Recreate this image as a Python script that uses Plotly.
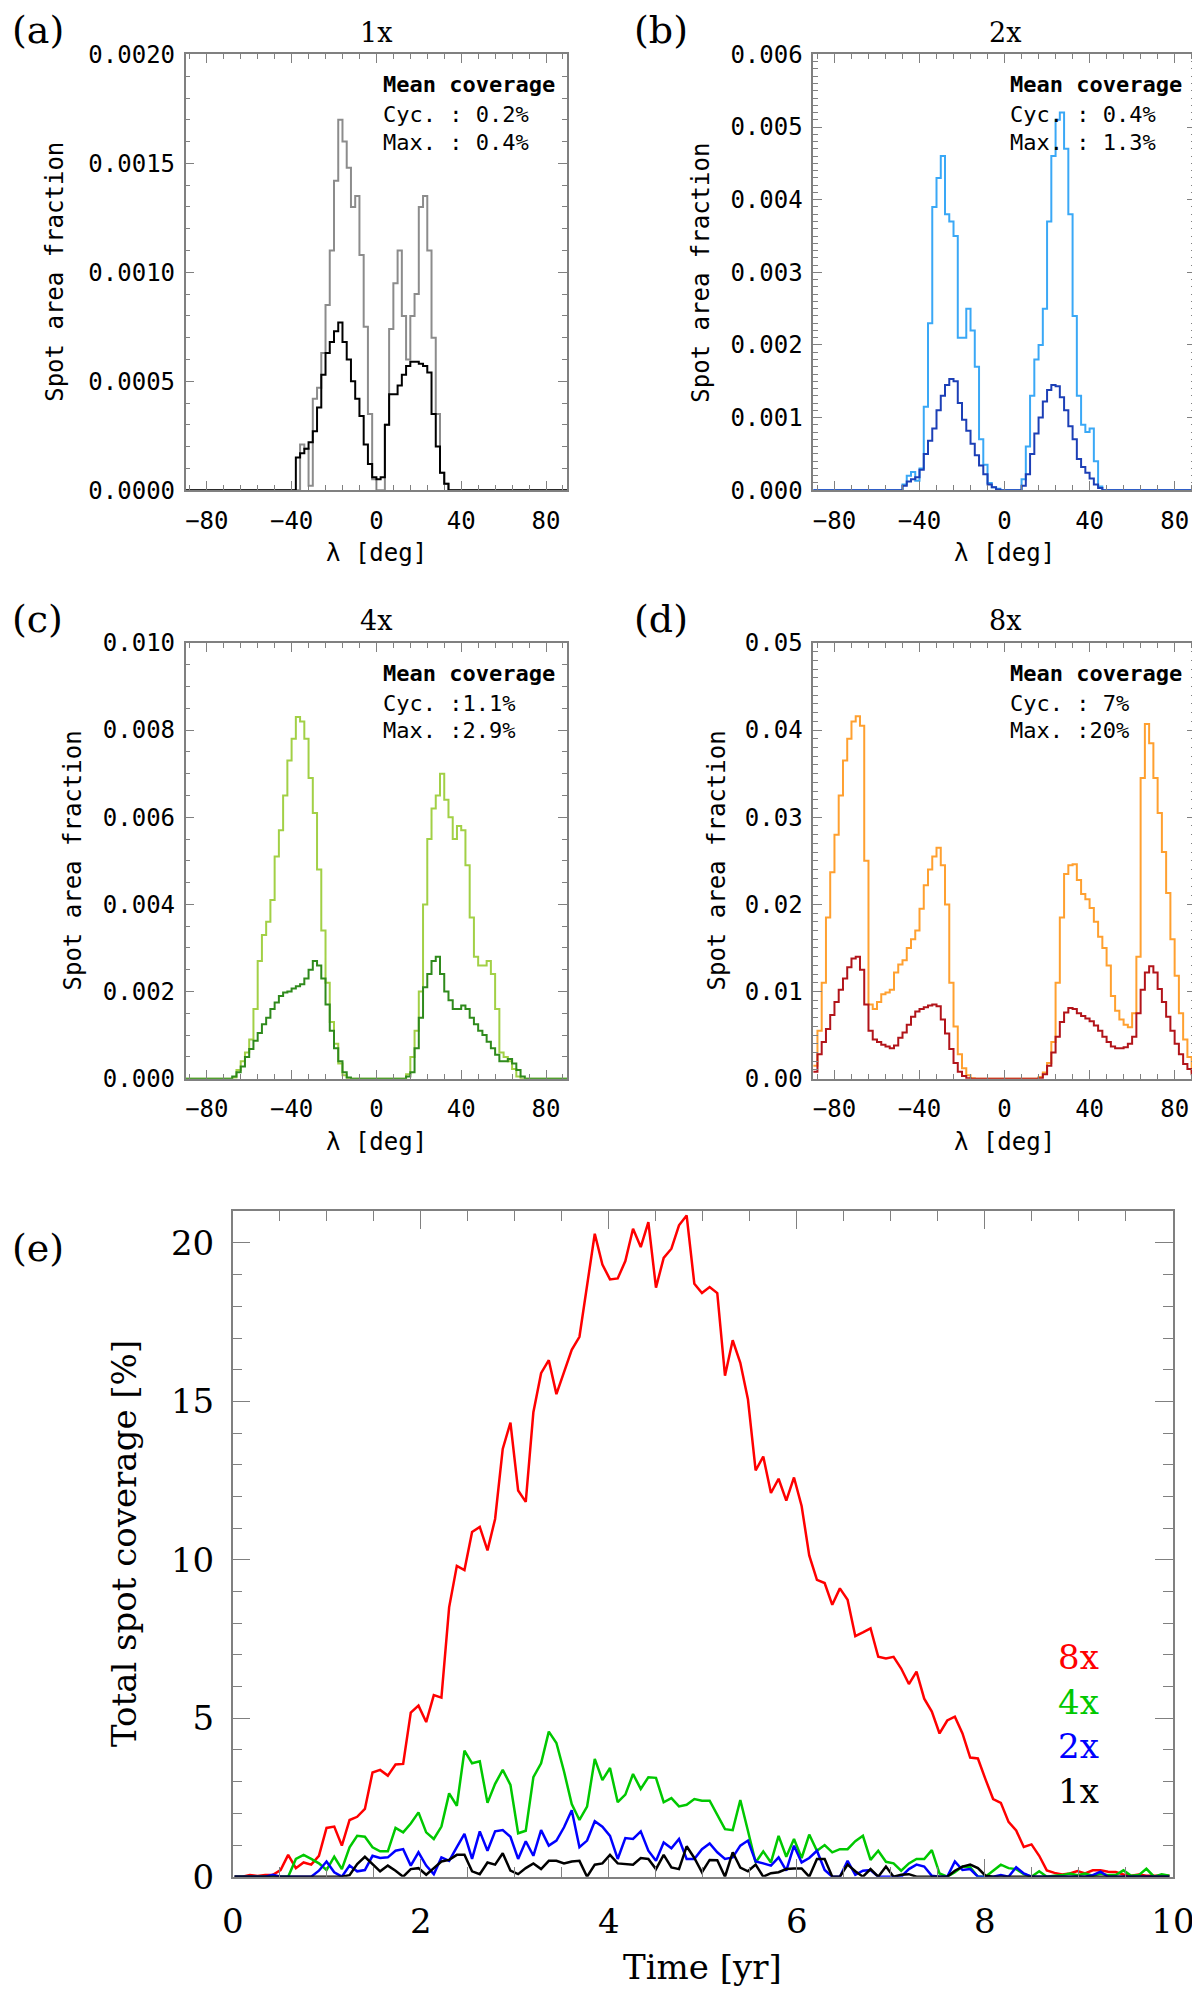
import numpy as np
import plotly.graph_objects as go

# the page body has an 8 px margin, so the figure is shifted by OFF in both directions
OFF = 8
W, H = 1200 - OFF, 1997 - OFF
MONO = "DejaVu Sans Mono"
SERIF = "DejaVu Serif"
GREY = "#808080"

# latitude bins of 2 deg, centres -89 .. 89
lat_edges = np.arange(-90, 91, 2)
n_bins = len(lat_edges) - 1

# ---- (a) 1x : first bin centre, max-phase and cycle-mean profiles
a_start = -39
a_max = [0, 0, 0.00021, 0.00019, 0.00002, 0.00042, 0.00047, 0.00063, 0.00085, 0.0011,
         0.00142, 0.0017, 0.0016, 0.00148, 0.0013, 0.00135, 0.00108, 0.00075, 0.00035, 0.00005,
         0, 0, 0.0003, 0.00074, 0.00095, 0.0011, 0.0008, 0.0006, 0.0008, 0.0009,
         0.0013, 0.00135, 0.0011, 0.0007, 0.00035, 0.00008, 0.00003, 0]
a_mean = [0, 0.00015, 0.00017, 0.00019, 0.00022, 0.00027, 0.00038, 0.00053, 0.00063, 0.00068,
          0.00073, 0.00077, 0.00068, 0.0006, 0.0005, 0.00042, 0.00034, 0.00021, 0.00012, 0.00006,
          0.00005, 0.00006, 0.0003, 0.00044, 0.00044, 0.00048, 0.00053, 0.00057, 0.00059, 0.00059,
          0.00058, 0.00057, 0.00054, 0.00035, 0.0002, 0.00008, 0.00003, 0]

# ---- (b) 2x
b_start = -49
b_max = [0, 0.00008, 0.0002, 0.00025, 0.00013, 0.0003, 0.00115, 0.0023, 0.0039, 0.0043,
         0.0046, 0.0038, 0.0037, 0.0035, 0.0021, 0.0021, 0.0025, 0.0022, 0.0017, 0.0007,
         0.00035, 0.0001, 0.00004, 0.00002, 0, 0, 0, 0, 0, 0.00015,
         0.0006, 0.0013, 0.0018, 0.002, 0.0025, 0.0037, 0.0046, 0.0051, 0.0052, 0.0047,
         0.0038, 0.0024, 0.0013, 0.0009, 0.0008, 0.00085, 0.0004, 0.00005, 0]
b_mean = [0, 0.00006, 0.00012, 0.00015, 0.00018, 0.00028, 0.0005, 0.00068, 0.00085, 0.0011,
          0.0013, 0.00145, 0.00153, 0.0015, 0.0012, 0.00097, 0.00082, 0.00064, 0.00048, 0.00034,
          0.00022, 0.00008, 0.00004, 0.00001, 0, 0, 0, 0, 0, 0.00006,
          0.00022, 0.0005, 0.00078, 0.001, 0.00122, 0.00138, 0.00145, 0.00143, 0.00128, 0.0011,
          0.00088, 0.0007, 0.00043, 0.00032, 0.00024, 0.00016, 0.00008, 0.00003, 0]

# ---- (c) 4x
c_start = -69
c_max = [0, 0.00003, 0.0002, 0.0004, 0.0006, 0.0009, 0.0016, 0.0027, 0.0033, 0.0036,
         0.0041, 0.0051, 0.0057, 0.0065, 0.0073, 0.0078, 0.0083, 0.0082, 0.0078, 0.0069,
         0.0061, 0.0048, 0.0034, 0.0022, 0.0013, 0.0008, 0.00035, 0.00008, 0, 0,
         0, 0, 0, 0, 0, 0, 0, 0, 0, 0,
         0, 0, 0.0001, 0.0005, 0.0011, 0.002, 0.004, 0.0055, 0.0062, 0.0065,
         0.007, 0.0064, 0.006, 0.0055, 0.0058, 0.0057, 0.0049, 0.0037, 0.0028, 0.0026,
         0.0026, 0.0027, 0.0024, 0.0016, 0.0006, 0.0005, 0.0004, 0.00022, 0.00005, 0]
c_mean = [0, 0.00005, 0.00015, 0.00028, 0.0005, 0.00068, 0.00087, 0.00105, 0.00125, 0.0014,
          0.0016, 0.00175, 0.0019, 0.00198, 0.002, 0.00207, 0.00212, 0.00217, 0.0023, 0.0025,
          0.0027, 0.0026, 0.0023, 0.0017, 0.0011, 0.0007, 0.0004, 0.00015, 0.00003, 0,
          0, 0, 0, 0, 0, 0, 0, 0, 0, 0,
          0, 0, 0.00005, 0.00015, 0.0007, 0.0014, 0.0021, 0.0024, 0.0027, 0.0028,
          0.0024, 0.002, 0.0018, 0.0016, 0.0016, 0.00168, 0.0016, 0.0014, 0.00125, 0.0011,
          0.001, 0.00085, 0.0007, 0.00055, 0.0004, 0.0004, 0.00045, 0.00035, 0.0002, 0.00005]

# ---- (d) 8x
d_start = -89
d_max = [0.0015, 0.0055, 0.011, 0.0185, 0.0237, 0.028, 0.0325, 0.0365, 0.039, 0.041,
         0.0416, 0.0405, 0.025, 0.0085, 0.008, 0.0088, 0.0097, 0.0099, 0.0102, 0.0122,
         0.0131, 0.0136, 0.015, 0.016, 0.017, 0.0195, 0.0222, 0.024, 0.0255, 0.0265,
         0.0245, 0.02, 0.011, 0.006, 0.0028, 0.0012, 0.0004, 0.00005, 0, 0,
         0, 0, 0, 0, 0, 0, 0, 0, 0, 0,
         0, 0, 0, 0.0002, 0.0007, 0.0018, 0.0042, 0.011, 0.0185, 0.0235,
         0.0245, 0.0246, 0.0228, 0.0212, 0.0206, 0.0196, 0.018, 0.0163, 0.015, 0.013,
         0.0095, 0.0078, 0.0068, 0.0062, 0.0059, 0.0075, 0.014, 0.0345, 0.0407, 0.0385,
         0.0345, 0.0305, 0.026, 0.0213, 0.016, 0.0118, 0.0075, 0.0045, 0.0025, 0.0008]
d_mean = [0.0008, 0.0028, 0.0042, 0.0057, 0.0073, 0.0088, 0.0102, 0.0115, 0.0128, 0.0138,
          0.014, 0.0125, 0.0085, 0.0055, 0.0045, 0.0042, 0.0039, 0.0037, 0.0035, 0.0038,
          0.0047, 0.0053, 0.0062, 0.0071, 0.0077, 0.008, 0.0082, 0.0084, 0.0085, 0.0083,
          0.0068, 0.0052, 0.0034, 0.0018, 0.0008, 0.0003, 0.00005, 0, 0, 0,
          0, 0, 0, 0, 0, 0, 0, 0, 0, 0,
          0, 0, 0, 0.00005, 0.0005, 0.0015, 0.003, 0.0048, 0.0065, 0.0076,
          0.0081, 0.008, 0.0075, 0.0072, 0.0069, 0.0066, 0.0061, 0.0055, 0.0048, 0.0042,
          0.0037, 0.0035, 0.0035, 0.0036, 0.004, 0.0048, 0.0075, 0.0102, 0.0122, 0.0129,
          0.0122, 0.0103, 0.0088, 0.0071, 0.0055, 0.004, 0.0028, 0.0017, 0.0011, 0.0005]

# ---- (e) total coverage [%] vs time, sampled every ~0.0815 yr
time = np.round(0.02 + 0.0815 * np.arange(123), 3)
cov_8x = [0, 0, 0.05, 0.02, 0.05, 0.06, 0.21, 0.69, 0.27, 0.45,
          0.38, 0.66, 1.54, 1.58, 0.98, 1.79, 1.89, 2.14, 3.29, 3.37,
          3.19, 3.54, 3.56, 5.18, 5.4, 4.88, 5.73, 5.65, 8.5, 9.81,
          9.68, 10.88, 11.04, 10.3, 11.29, 13.5, 14.33, 12.19, 11.83, 14.66,
          15.89, 16.3, 15.23, 15.92, 16.63, 17.04, 18.69, 20.29, 19.32, 18.85,
          18.88, 19.43, 20.45, 19.87, 20.66, 18.59, 19.53, 19.82, 20.56, 20.87,
          18.71, 18.42, 18.61, 18.42, 15.81, 16.93, 16.22, 15.07, 12.82, 13.26,
          12.11, 12.56, 11.87, 12.6, 11.7, 10.14, 9.37, 9.27, 8.58, 9.1,
          8.74, 7.59, 7.71, 7.84, 6.94, 6.89, 6.94, 6.57, 6.08, 6.47,
          5.62, 5.21, 4.52, 4.93, 5.05, 4.52, 3.76, 3.73, 3.07, 2.45,
          2.33, 1.73, 1.46, 0.94, 1.02, 0.66, 0.2, 0.12, 0.07, 0.1,
          0.18, 0.1, 0.2, 0.2, 0.16, 0.15, 0.07, 0.03, 0.07, 0.03,
          0.03, 0.03, 0.03]
cov_4x = [0, 0, 0, 0, 0, 0, 0, 0, 0.56, 0.69,
          0.56, 0.42, 0.21, 0.63, 0.24, 0.93, 1.29, 1.26, 0.93, 0.8,
          0.8, 1.54, 1.4, 1.68, 2.03, 1.4, 1.19, 1.58, 2.63, 2.24,
          3.98, 3.58, 3.64, 2.33, 2.93, 3.37, 2.9, 1.37, 1.45, 3.14,
          3.58, 4.58, 4.22, 3.32, 2.29, 1.79, 2.21, 3.72, 3.05, 3.43,
          2.35, 2.59, 3.24, 2.77, 3.14, 3.12, 2.35, 2.48, 2.22, 2.27,
          2.45, 2.4, 2.4, 1.93, 1.5, 1.47, 2.42, 1.45, 0.45, 0.8,
          0.45, 1.29, 0.63, 1.19, 0.59, 1.33, 0.82, 1.0, 0.77, 0.87,
          0.87, 1.12, 1.29, 0.53, 0.82, 0.47, 0.42, 0.19, 0.42, 0.56,
          0.56, 0.84, 0.1, 0, 0.14, 0.32, 0.3, 0, 0, 0.19,
          0.38, 0.27, 0.24, 0.08, 0, 0.17, 0, 0.03, 0.05, 0.1,
          0.05, 0.1, 0.03, 0.1, 0.05, 0.05, 0.2, 0.03, 0.05, 0.25,
          0, 0.08, 0.03]
cov_2x = [0, 0, 0, 0, 0, 0.06, 0, 0, 0, 0,
          0, 0.19, 0.48, 0.14, 0, 0.35, 0.17, 0.21, 0.66, 0.59,
          0.61, 0.82, 0.87, 0.35, 0.77, 0.35, 0.08, 0.61, 0.5, 0.93,
          1.35, 0.56, 1.43, 0.82, 1.43, 1.47, 1.26, 0.56, 1.12, 0.66,
          1.47, 0.98, 1.14, 1.56, 2.1, 0.93, 1.14, 1.75, 1.58, 1.29,
          0.56, 1.22, 1.19, 1.43, 0.82, 0.5, 1.08, 0.9, 1.19, 0.56,
          0.56, 0.87, 1.05, 0.77, 0.56, 0.61, 0.98, 1.14, 0.48, 0.42,
          0.35, 0.61, 0.19, 0.98, 0.45, 0.59, 0.82, 0.21, 0, 0,
          0.5, 0.06, 0.19, 0.21, 0, 0, 0, 0, 0.24, 0.38,
          0.32, 0.03, 0, 0, 0.48, 0.21, 0.24, 0, 0, 0,
          0.05, 0, 0.3, 0.1, 0, 0, 0, 0, 0, 0,
          0, 0, 0.05, 0.16, 0, 0, 0, 0, 0, 0,
          0, 0, 0]
cov_1x = [0, 0, 0, 0, 0, 0, 0, 0, 0, 0,
          0, 0, 0, 0, 0, 0.05, 0.4, 0.63, 0.4, 0.17,
          0.35, 0.19, 0, 0.24, 0.27, 0.06, 0.27, 0.48, 0.53, 0.69,
          0.69, 0.17, 0.08, 0.45, 0.38, 0.74, 0.19, 0.08, 0.27, 0.42,
          0.24, 0.5, 0.5, 0.42, 0.48, 0.5, 0, 0.38, 0.42, 0.69,
          0.42, 0.4, 0.38, 0.59, 0.56, 0.24, 0.69, 0.29, 0.24, 0.96,
          0.59, 0.14, 0.53, 0.52, 0, 0.77, 0.29, 0.17, 0.38, 0,
          0.11, 0.14, 0.24, 0.26, 0.26, 0, 0.56, 0.56, 0, 0,
          0.38, 0.17, 0, 0.24, 0, 0.32, 0, 0.06, 0.08, 0,
          0, 0, 0, 0, 0.19, 0.32, 0.38, 0.27, 0.03, 0,
          0, 0, 0, 0, 0, 0, 0, 0, 0, 0,
          0, 0, 0, 0, 0, 0, 0, 0, 0, 0,
          0, 0, 0]

panels = [
    # label, title, start, max, mean, colours, ymax, dtick, minor, fmt, cyc, mx
    ("(a)", "1x", a_start, a_max, a_mean, ("#8c8c8c", "#000000"), 0.002, 0.0005, 0.0001, ".4f", " 0.2%", " 0.4%"),
    ("(b)", "2x", b_start, b_max, b_mean, ("#3aa8f6", "#1c3fb6"), 0.006, 0.001, 0.0001, ".3f", " 0.4%", " 1.3%"),
    ("(c)", "4x", c_start, c_max, c_mean, ("#a2d046", "#2f8a1c"), 0.010, 0.002, 0.0005, ".3f", "1.1%", "2.9%"),
    ("(d)", "8x", d_start, d_max, d_mean, ("#ffa030", "#b2141a"), 0.05, 0.01, 0.001, ".2f", " 7%", "20%"),
]

# pixel boxes of the plot areas in the window: left, right, top, bottom
boxes = [(185.6, 567.2, 54.4, 490.2), (813.2, 1195.9, 54.4, 490.2),
         (185.6, 567.2, 642.9, 1078.7), (813.2, 1195.9, 642.9, 1078.7)]
box_e = (232.7, 1172.9, 1211.3, 1876.7)


def px(x):
    return (x - OFF) / W


def py(y):
    return 1 - (y - OFF) / H


def full_profile(start, vals):
    prof = np.zeros(n_bins)
    i0 = int((start + 89) // 2)
    prof[i0:i0 + len(vals)] = vals
    return np.append(prof, prof[-1])


def frame(**kw):
    d = dict(showline=True, linecolor=GREY, linewidth=1.5, mirror="ticks", ticks="inside",
             tickcolor=GREY, tickwidth=1.2, showgrid=False, zeroline=False)
    d.update(kw)
    return d


fig = go.Figure()
annotations = []


def add_text(x, y, s, size, family=MONO, color="black", xanchor="center", angle=0):
    annotations.append(dict(x=px(x), y=py(y), xref="paper", yref="paper", text=s, showarrow=False,
                            xanchor=xanchor, yanchor="middle", textangle=angle,
                            font=dict(family=family, size=size, color=color)))


ylab_x = [55.5, 701.4, 72.7, 716.7]
lab_x = [10, 632, 10, 632]

for k, (lab, title, start, vmax, vmean, cols, ymax, dtick, minor, fmt, cyc, mx) in enumerate(panels):
    n = k + 1
    xa = "x" if n == 1 else "x%d" % n
    ya = "y" if n == 1 else "y%d" % n
    for vals, col in ((vmax, cols[0]), (vmean, cols[1])):
        fig.add_trace(go.Scatter(x=lat_edges, y=full_profile(start, vals), mode="lines",
                                 line=dict(color=col, width=2, shape="hv"),
                                 xaxis=xa, yaxis=ya, showlegend=False))
    l, r, t, b = boxes[k]
    fig.layout["xaxis" if n == 1 else "xaxis%d" % n] = frame(
        domain=[px(l), px(r)], anchor=ya, range=[-90, 90], tick0=-80, dtick=40, ticklen=9,
        ticklabelstandoff=8, tickfont=dict(family=MONO, size=24, color="black"),
        minor=dict(tick0=-80, dtick=8, ticklen=5, ticks="inside", tickcolor=GREY, tickwidth=1.2))
    fig.layout["yaxis" if n == 1 else "yaxis%d" % n] = frame(
        domain=[py(b), py(t)], anchor=xa, range=[0, ymax * 1.0001], tick0=0, dtick=dtick,
        ticklen=9, tickformat=fmt, ticklabelstandoff=4,
        tickfont=dict(family=MONO, size=24, color="black"),
        minor=dict(tick0=0, dtick=minor, ticklen=5, ticks="inside", tickcolor=GREY, tickwidth=1.2))
    # labels and titles
    add_text(lab_x[k], t - 24, lab, 38, SERIF, xanchor="left")
    add_text((l + r) / 2, t - 22, title, 27, SERIF)
    add_text(ylab_x[k], (t + b) / 2, "Spot area fraction", 24, angle=-90)
    add_text((l + r) / 2, b + 63, "λ [deg]", 24)
    tx = l + 195
    add_text(tx, t + 30.6, "<b>Mean coverage</b>", 22, xanchor="left")
    add_text(tx, t + 60.3, "Cyc. :" + cyc, 22, xanchor="left")
    add_text(tx, t + 88, "Max. :" + mx, 22, xanchor="left")

# ---- panel (e)
for vals, col in ((cov_8x, "#ff0000"), (cov_4x, "#00c800"), (cov_2x, "#0000ff"), (cov_1x, "#000000")):
    fig.add_trace(go.Scatter(x=time, y=vals, mode="lines", line=dict(color=col, width=2.5),
                             xaxis="x5", yaxis="y5", showlegend=False))

l, r, t, b = box_e
fig.layout["xaxis5"] = frame(
    domain=[px(l), px(r)], anchor="y5", range=[0, 10], tick0=0, dtick=2, ticklen=18,
    ticklabelstandoff=14, tickfont=dict(family=SERIF, size=34, color="black"),
    minor=dict(tick0=0, dtick=0.5, ticklen=10, ticks="inside", tickcolor=GREY, tickwidth=1.2))
fig.layout["yaxis5"] = frame(
    domain=[py(b), py(t)], anchor="x5", range=[0, 21], tick0=0, dtick=5, ticklen=18,
    ticklabelstandoff=10, tickfont=dict(family=SERIF, size=34, color="black"),
    minor=dict(tick0=0, dtick=1, ticklen=10, ticks="inside", tickcolor=GREY, tickwidth=1.2))

add_text(10, 1247.7, "(e)", 38, SERIF, xanchor="left")
add_text(124, (t + b) / 2, "Total spot coverage [%]", 34, SERIF, angle=-90)
add_text((l + r) / 2, 1967, "Time [yr]", 34, SERIF)
for s, col, yy in (("8x", "#ff0000", 1657), ("4x", "#00c800", 1702),
                   ("2x", "#0000ff", 1746), ("1x", "#000000", 1791)):
    add_text(1101, yy, s, 34, SERIF, color=col, xanchor="right")

fig.update_layout(width=W, height=H, margin=dict(l=0, r=0, t=0, b=0, autoexpand=False),
                  paper_bgcolor="white", plot_bgcolor="white", showlegend=False,
                  annotations=annotations)

fig.write_html("out.html")
